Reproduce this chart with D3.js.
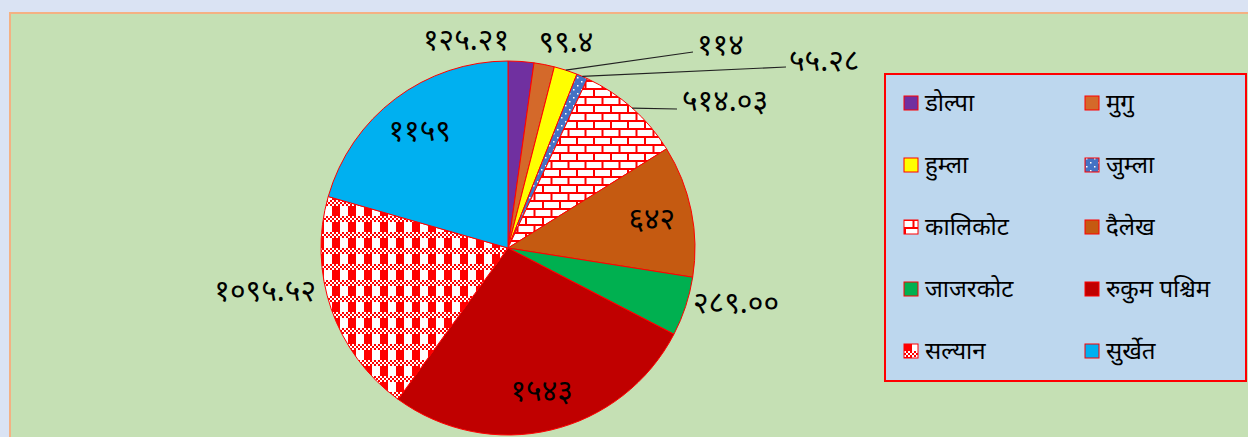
<!DOCTYPE html>
<html>
<head>
<meta charset="utf-8">
<script src="https://cdn.jsdelivr.net/npm/d3@7"></script>
<style>
  body { margin: 0; background: #dae3f3; }
  svg text { font-family: "Noto Sans Devanagari", "Lohit Devanagari", "Noto Sans", sans-serif; fill: #000; }
</style>
</head>
<body>
<div id="chart"></div>
<script>
// data
const districts = ["डोल्पा", "मुगु", "हुम्ला", "जुम्ला", "कालिकोट", "दैलेख", "जाजरकोट", "रुकुम पश्चिम", "सल्यान", "सुर्खेत"];
const values = [125.21, 99.4, 114, 55.28, 514.03, 642, 289.00, 1543, 1095.52, 1159];
const valueLabels = ["१२५.२१", "९९.४", "११४", "५५.२८", "५१४.०३", "६४२", "२८९.००", "१५४३", "१०९५.५२", "११५९"];

const fills = ["#7030a0", "#d4692a", "#ffff00", "url(#dots)", "url(#bricks)", "#c55a11", "#00b050", "#c00000", "url(#plaid)", "#00b0f0"];

const W = 1248, H = 437;
const cx = 508, cy = 248, R = 187;

const svg = d3.select("#chart").append("svg")
    .attr("width", W).attr("height", H);

// chart area
svg.append("rect")
    .attr("x", 10).attr("y", 13)
    .attr("width", W).attr("height", H)
    .attr("fill", "#c5e0b4")
    .attr("stroke", "#f4b183").attr("stroke-width", 2);

// patterns
const defs = svg.append("defs");

const dots = defs.append("pattern").attr("id", "dots")
    .attr("patternUnits", "userSpaceOnUse").attr("width", 8).attr("height", 8);
dots.append("rect").attr("width", 8).attr("height", 8).attr("fill", "#4472c4");
dots.append("rect").attr("x", 1).attr("y", 1).attr("width", 1.5).attr("height", 1.5).attr("fill", "#fff");
dots.append("rect").attr("x", 5).attr("y", 5).attr("width", 1.5).attr("height", 1.5).attr("fill", "#fff");

const bricks = defs.append("pattern").attr("id", "bricks")
    .attr("patternUnits", "userSpaceOnUse").attr("width", 17).attr("height", 16);
bricks.append("rect").attr("width", 17).attr("height", 16).attr("fill", "#fff");
bricks.append("path")
    .attr("d", "M0,1H17M0,9H17M1,1V9M9.5,9V17")
    .attr("stroke", "#ff0000").attr("stroke-width", 2).attr("fill", "none");

// plaid: red stripes with a band of small checks
const plaid = defs.append("pattern").attr("id", "plaid")
    .attr("patternUnits", "userSpaceOnUse").attr("width", 16).attr("height", 16);
plaid.append("rect").attr("width", 16).attr("height", 16).attr("fill", "#fff");
plaid.append("rect").attr("x", 0).attr("width", 8).attr("height", 16).attr("fill", "#ff0000");
plaid.append("rect").attr("x", 0).attr("y", 0).attr("width", 16).attr("height", 6).attr("fill", "#ff0000");
for (let i = 0; i < 16; i += 2) {
    for (let j = 0; j < 6; j += 2) {
        if ((i / 2 + j / 2) % 2 === 0) {
            plaid.append("rect").attr("x", i).attr("y", j)
                .attr("width", 2).attr("height", 2)
                .attr("fill", "#fff");
        }
    }
}

// pie
const pie = d3.pie().sort(null).value(d => d);
const arcs = pie(values);
const arc = d3.arc().innerRadius(0).outerRadius(R);

const g = svg.append("g").attr("transform", `translate(${cx},${cy})`);

g.selectAll("path.slice")
    .data(arcs)
    .enter()
    .append("path")
    .attr("class", "slice")
    .attr("d", arc)
    .attr("fill", (d, i) => fills[i])
    .attr("stroke", "#ff0000")
    .attr("stroke-width", 1);

// labels: inside slices on centroid, others moved outside like excel does
const inner = d3.arc().innerRadius(R * 0.785).outerRadius(R * 0.785);
const outside = {
    0: { x: -42, y: -209, anchor: "middle" },
    1: { x: 58, y: -207, anchor: "middle" },
    2: { x: 189, y: -204, anchor: "start", line: [185, -196] },
    3: { x: 281, y: -188, anchor: "start", line: [278, -181] },
    4: { x: 174, y: -148, anchor: "start", line: [169, -139] },
    6: { x: 185, y: 54, anchor: "start" },
    8: { x: -192, y: 42, anchor: "end" }
};

arcs.forEach((d, i) => {
    const o = outside[i];
    let x, y, anchor = "middle";
    if (o) {
        x = o.x; y = o.y; anchor = o.anchor;
        if (o.line) {
            const mid = (d.startAngle + d.endAngle) / 2;
            g.append("polyline")
                .attr("points", [[R * Math.sin(mid), -R * Math.cos(mid)], o.line].join(" "))
                .attr("fill", "none")
                .attr("stroke", "#222")
                .attr("stroke-width", 1.2);
        }
    } else {
        [x, y] = inner.centroid(d);
    }
    g.append("text")
        .attr("x", x).attr("y", y)
        .attr("dy", "0.35em")
        .attr("text-anchor", anchor)
        .attr("font-size", 30)
        .text(valueLabels[i]);
});

// legend
const legend = svg.append("g");
legend.append("rect")
    .attr("x", 885).attr("y", 74)
    .attr("width", 361).attr("height", 307)
    .attr("fill", "#bdd7ee")
    .attr("stroke", "#ff0000").attr("stroke-width", 2);

const items = legend.selectAll("g.item")
    .data(districts)
    .enter()
    .append("g")
    .attr("class", "item")
    .attr("transform", (d, i) => `translate(${i % 2 ? 1085 : 904},${103 + Math.floor(i / 2) * 62})`);

items.append("rect")
    .attr("x", 0).attr("y", -7)
    .attr("width", 14).attr("height", 14)
    .attr("fill", (d, i) => fills[i])
    .attr("stroke", "#ff0000").attr("stroke-width", 1);

items.append("text")
    .attr("x", 21).attr("y", 0)
    .attr("dy", "0.35em")
    .attr("font-size", 24)
    .text(d => d);
</script>
</body>
</html>
